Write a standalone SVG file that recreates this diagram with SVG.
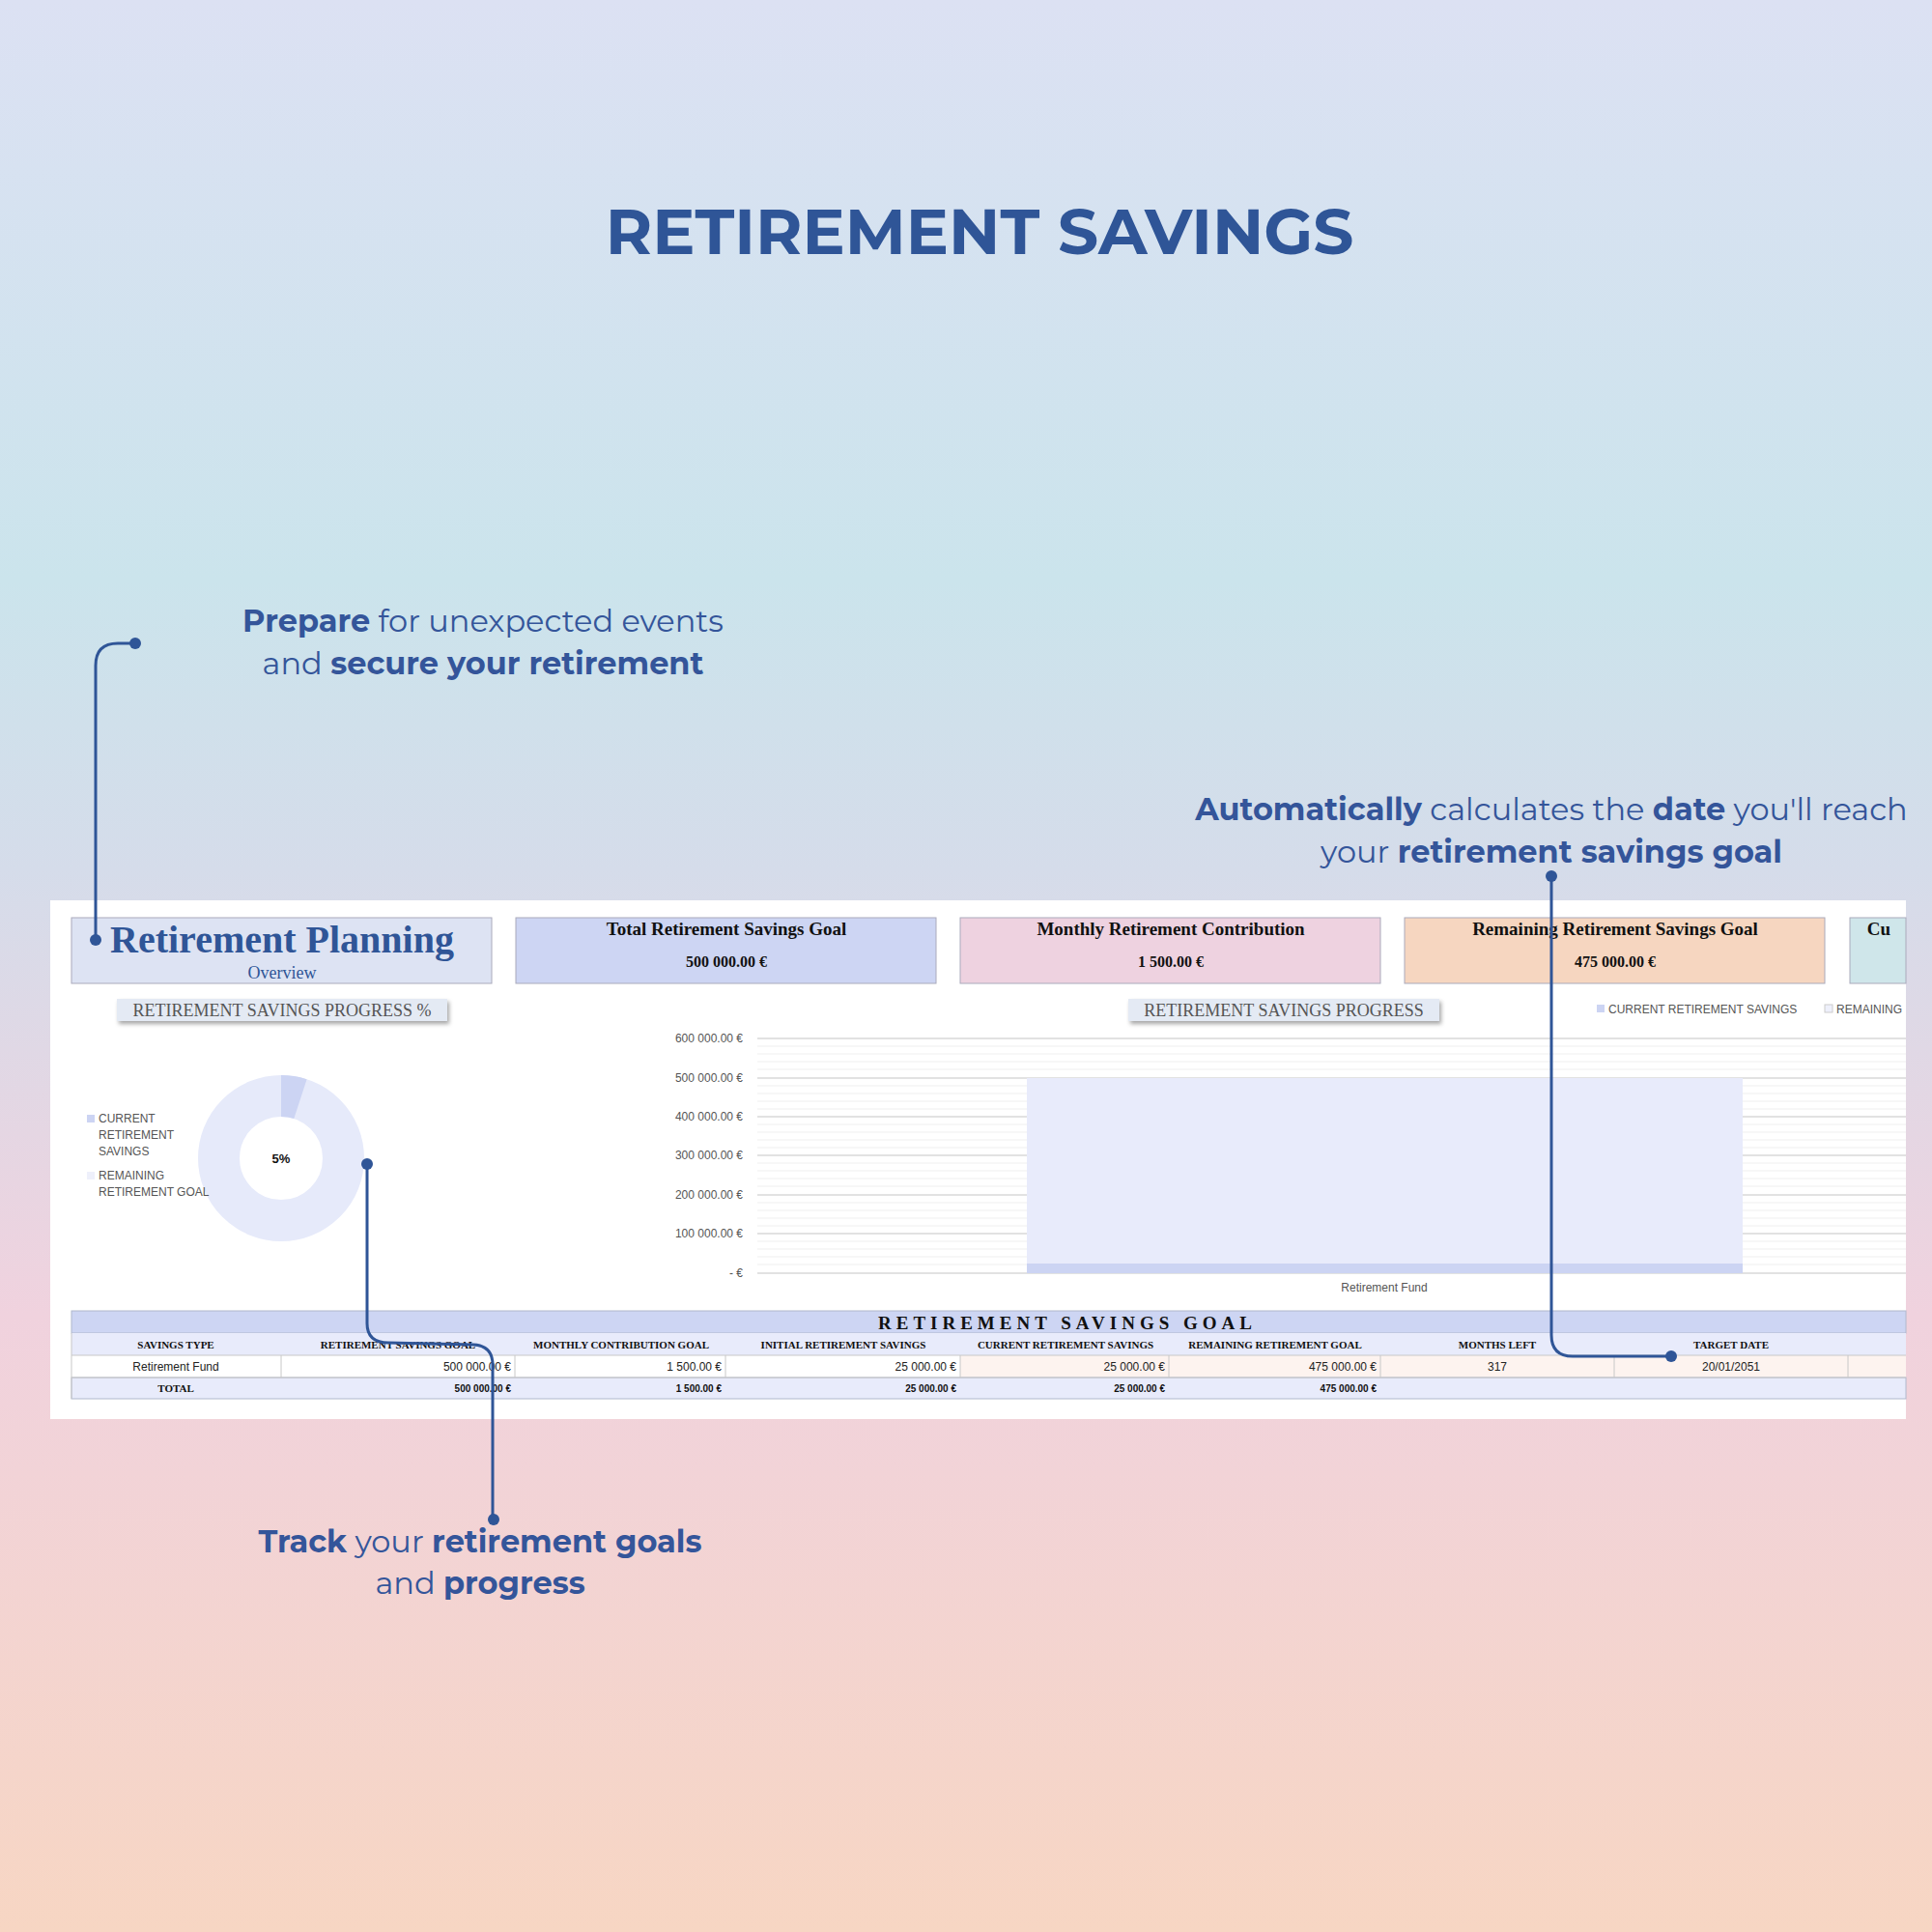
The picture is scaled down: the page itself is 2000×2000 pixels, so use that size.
<svg xmlns="http://www.w3.org/2000/svg" width="2000" height="2000" viewBox="0 0 2000 2000">
<defs>
<linearGradient id="bg" x1="0" y1="0" x2="0" y2="1">
<stop offset="0" stop-color="#dce1f3"/>
<stop offset="0.3" stop-color="#cbe4ec"/>
<stop offset="0.45" stop-color="#d5dcea"/>
<stop offset="0.68" stop-color="#f0d2de"/>
<stop offset="1" stop-color="#f7d6c3"/>
</linearGradient>
<filter id="sh" x="-10%" y="-30%" width="120%" height="180%"><feDropShadow dx="2" dy="3" stdDeviation="2" flood-color="#000" flood-opacity="0.35"/></filter>
<style>
.call{font-family:Montserrat,"Open Sans","Liberation Sans",sans-serif;font-size:32px;fill:#34559a;text-anchor:middle}
.b{font-weight:700}
.ct{font-family:"Liberation Serif",serif;font-weight:700;font-size:19px;fill:#111;text-anchor:middle}
.cv{font-family:"Liberation Serif",serif;font-weight:700;font-size:16px;fill:#111;text-anchor:middle}
.ax{font-family:"Liberation Sans",sans-serif;font-size:12px;fill:#555;text-anchor:end}
.lg{font-family:"Liberation Sans",sans-serif;font-size:12px;fill:#555}
.th{font-family:"Liberation Serif",serif;font-weight:700;font-size:11px;fill:#111;text-anchor:middle}
.td{font-family:"Liberation Sans",sans-serif;font-size:12px;fill:#222}
.tt{font-family:"Liberation Sans",sans-serif;font-weight:700;font-size:10px;fill:#111;text-anchor:end}
.conn{fill:none;stroke:#2f5597;stroke-width:3}
.dot{fill:#2f5597}
.grid{stroke:#d9d9d9;stroke-width:1.5}
.mgrid{stroke:#efefef;stroke-width:1}
.cell{stroke:#c8c8c8;stroke-width:1}
</style>
</defs>
<rect width="2000" height="2000" fill="url(#bg)"/>
<text x="1014" y="263" font-family="Montserrat,'Open Sans','Liberation Sans',sans-serif" font-weight="700" font-size="66" fill="#2f5597" text-anchor="middle">RETIREMENT SAVINGS</text>

<g id="callout-prepare">
<text class="call" x="500" y="654"><tspan class="b">Prepare</tspan> for unexpected events</text>
<text class="call" x="500" y="698">and <tspan class="b">secure your retirement</tspan></text>
</g>
<g id="callout-auto">
<text class="call" x="1606" y="849"><tspan class="b">Automatically</tspan> calculates the <tspan class="b">date</tspan> you'll reach</text>
<text class="call" x="1606" y="893">your <tspan class="b">retirement savings goal</tspan></text>
</g>
<g id="callout-track">
<text class="call" x="497" y="1607"><tspan class="b">Track</tspan> your <tspan class="b">retirement goals</tspan></text>
<text class="call" x="497" y="1650">and <tspan class="b">progress</tspan></text>
</g>

<g id="dashboard">
<rect x="52" y="932" width="1921" height="537" fill="#fff"/>
<g id="title-box">
<rect x="74" y="950" width="435" height="68" fill="#dde3f3" stroke="#aab" stroke-width="1"/>
<text x="292" y="986" font-family="'Liberation Serif',serif" font-weight="700" font-size="40" fill="#2f5597" text-anchor="middle">Retirement Planning</text>
<text x="292" y="1013" font-family="'Liberation Serif',serif" font-size="18" fill="#2f5597" text-anchor="middle">Overview</text>
</g>
<g id="card1"><rect x="534" y="950" width="435" height="68" fill="#cdd5f3" stroke="#aab"/><text class="ct" x="752" y="968">Total Retirement Savings Goal</text><text class="cv" x="752" y="1001">500 000.00 €</text></g>
<g id="card2"><rect x="994" y="950" width="435" height="68" fill="#eed2e0" stroke="#aab"/><text class="ct" x="1212" y="968">Monthly Retirement Contribution</text><text class="cv" x="1212" y="1001">1 500.00 €</text></g>
<g id="card3"><rect x="1454" y="950" width="435" height="68" fill="#f6d6c0" stroke="#aab"/><text class="ct" x="1672" y="968">Remaining Retirement Savings Goal</text><text class="cv" x="1672" y="1001">475 000.00 €</text></g>
<g id="card4"><rect x="1915" y="950" width="58" height="68" fill="#cfe6ea" stroke="#aab"/><text class="ct" x="1945" y="968" text-anchor="start">Cu</text></g>

<g id="progress-pct">
<rect x="121" y="1034" width="342" height="23" fill="#e4eaf4" filter="url(#sh)"/>
<text x="292" y="1052" font-family="'Liberation Serif',serif" font-size="18" fill="#555" text-anchor="middle">RETIREMENT SAVINGS PROGRESS %</text>
<circle cx="291" cy="1199" r="64.5" fill="none" stroke="#e6eafa" stroke-width="43"/>
<path d="M291 1113 A86 86 0 0 1 317.6 1117.2 L304.3 1158.1 A43 43 0 0 0 291 1156 Z" fill="#ccd4f3"/>
<text x="291" y="1204" font-family="'Liberation Sans',sans-serif" font-weight="700" font-size="13" fill="#111" text-anchor="middle">5%</text>
<rect x="90" y="1154" width="8" height="8" fill="#ccd4f3"/>
<text class="lg" x="102" y="1162">CURRENT</text>
<text class="lg" x="102" y="1179">RETIREMENT</text>
<text class="lg" x="102" y="1196">SAVINGS</text>
<rect x="90" y="1213" width="8" height="8" fill="#eef0fb"/>
<text class="lg" x="102" y="1221">REMAINING</text>
<text class="lg" x="102" y="1238">RETIREMENT GOAL</text>
</g>

<g id="progress-chart">
<rect x="1168" y="1034" width="322" height="23" fill="#e4eaf4" filter="url(#sh)"/>
<text x="1329" y="1052" font-family="'Liberation Serif',serif" font-size="18" fill="#555" text-anchor="middle">RETIREMENT SAVINGS PROGRESS</text>
<rect x="1653" y="1040" width="8" height="8" fill="#ccd4f3"/>
<text class="lg" x="1665" y="1049" font-size="11">CURRENT RETIREMENT SAVINGS</text>
<rect x="1889" y="1040" width="8" height="8" fill="#eef0fb" stroke="#ccc"/>
<text class="lg" x="1901" y="1049" font-size="11">REMAINING</text>
<g class="mgrid">
<line x1="784" y1="1083" x2="1973" y2="1083"/><line x1="784" y1="1091" x2="1973" y2="1091"/><line x1="784" y1="1099" x2="1973" y2="1099"/><line x1="784" y1="1107" x2="1973" y2="1107"/>
<line x1="784" y1="1124" x2="1973" y2="1124"/><line x1="784" y1="1132" x2="1973" y2="1132"/><line x1="784" y1="1140" x2="1973" y2="1140"/><line x1="784" y1="1148" x2="1973" y2="1148"/>
<line x1="784" y1="1164" x2="1973" y2="1164"/><line x1="784" y1="1172" x2="1973" y2="1172"/><line x1="784" y1="1180" x2="1973" y2="1180"/><line x1="784" y1="1188" x2="1973" y2="1188"/>
<line x1="784" y1="1204" x2="1973" y2="1204"/><line x1="784" y1="1212" x2="1973" y2="1212"/><line x1="784" y1="1220" x2="1973" y2="1220"/><line x1="784" y1="1228" x2="1973" y2="1228"/>
<line x1="784" y1="1245" x2="1973" y2="1245"/><line x1="784" y1="1253" x2="1973" y2="1253"/><line x1="784" y1="1261" x2="1973" y2="1261"/><line x1="784" y1="1269" x2="1973" y2="1269"/>
<line x1="784" y1="1285" x2="1973" y2="1285"/><line x1="784" y1="1293" x2="1973" y2="1293"/><line x1="784" y1="1301" x2="1973" y2="1301"/><line x1="784" y1="1309" x2="1973" y2="1309"/>
</g>
<g class="grid">
<line x1="784" y1="1075" x2="1973" y2="1075"/><line x1="784" y1="1116" x2="1973" y2="1116"/><line x1="784" y1="1156" x2="1973" y2="1156"/><line x1="784" y1="1196" x2="1973" y2="1196"/><line x1="784" y1="1237" x2="1973" y2="1237"/><line x1="784" y1="1277" x2="1973" y2="1277"/><line x1="784" y1="1318" x2="1973" y2="1318"/>
</g>
<text class="ax" x="769" y="1079">600 000.00 €</text>
<text class="ax" x="769" y="1120">500 000.00 €</text>
<text class="ax" x="769" y="1160">400 000.00 €</text>
<text class="ax" x="769" y="1200">300 000.00 €</text>
<text class="ax" x="769" y="1241">200 000.00 €</text>
<text class="ax" x="769" y="1281">100 000.00 €</text>
<text class="ax" x="769" y="1322">-  €</text>
<rect x="1063" y="1116" width="741" height="192" fill="#e8ebfb"/>
<rect x="1063" y="1308" width="741" height="10" fill="#ccd4f3"/>
<text class="lg" x="1433" y="1337" font-size="11" text-anchor="middle">Retirement Fund</text>
</g>

<g id="goal-table">
<rect x="74" y="1357" width="1899" height="23" fill="#cdd5f3" stroke="#b0b8cc"/>
<text x="1105" y="1376" font-family="'Liberation Serif',serif" font-weight="700" font-size="19" fill="#111" text-anchor="middle" letter-spacing="5">RETIREMENT SAVINGS GOAL</text>
<rect x="74" y="1380" width="1899" height="23" fill="#e8ebfb"/>
<rect x="74" y="1403" width="1899" height="23" fill="#fff"/>
<rect x="994" y="1403" width="979" height="23" fill="#fdf3ef"/>
<rect x="74" y="1426" width="1899" height="22" fill="#e8ebfb" stroke="#b0b8cc"/>
<g class="cell">
<line x1="74" y1="1403" x2="1973" y2="1403"/><line x1="74" y1="1426" x2="1973" y2="1426"/>
<line x1="74" y1="1380" x2="74" y2="1448"/>
<line x1="291" y1="1403" x2="291" y2="1426"/><line x1="533" y1="1403" x2="533" y2="1426"/><line x1="751" y1="1403" x2="751" y2="1426"/><line x1="994" y1="1403" x2="994" y2="1426"/><line x1="1210" y1="1403" x2="1210" y2="1426"/><line x1="1429" y1="1403" x2="1429" y2="1426"/><line x1="1671" y1="1403" x2="1671" y2="1426"/><line x1="1913" y1="1403" x2="1913" y2="1426"/>
</g>
<text class="th" x="182" y="1396">SAVINGS TYPE</text>
<text class="th" x="412" y="1396">RETIREMENT SAVINGS GOAL</text>
<text class="th" x="643" y="1396">MONTHLY CONTRIBUTION GOAL</text>
<text class="th" x="873" y="1396">INITIAL RETIREMENT SAVINGS</text>
<text class="th" x="1103" y="1396">CURRENT RETIREMENT SAVINGS</text>
<text class="th" x="1320" y="1396">REMAINING RETIREMENT GOAL</text>
<text class="th" x="1550" y="1396">MONTHS LEFT</text>
<text class="th" x="1792" y="1396">TARGET DATE</text>
<text class="td" x="182" y="1419" text-anchor="middle">Retirement Fund</text>
<text class="td" x="529" y="1419" text-anchor="end">500 000.00 €</text>
<text class="td" x="747" y="1419" text-anchor="end">1 500.00 €</text>
<text class="td" x="990" y="1419" text-anchor="end">25 000.00 €</text>
<text class="td" x="1206" y="1419" text-anchor="end">25 000.00 €</text>
<text class="td" x="1425" y="1419" text-anchor="end">475 000.00 €</text>
<text class="td" x="1550" y="1419" text-anchor="middle">317</text>
<text class="td" x="1792" y="1419" text-anchor="middle">20/01/2051</text>
<text class="th" x="182" y="1441">TOTAL</text>
<text class="tt" x="529" y="1441">500 000.00 €</text>
<text class="tt" x="747" y="1441">1 500.00 €</text>
<text class="tt" x="990" y="1441">25 000.00 €</text>
<text class="tt" x="1206" y="1441">25 000.00 €</text>
<text class="tt" x="1425" y="1441">475 000.00 €</text>
</g>
</g>

<g id="connectors">
<path class="conn" d="M140 666 H122 Q99 666 99 689 V973"/>
<circle class="dot" cx="140" cy="666" r="6"/><circle class="dot" cx="99" cy="973" r="6"/>
<path class="conn" d="M380 1205 V1370 Q380 1390 402 1390 L490 1392 Q510 1393 510 1413 V1573"/>
<circle class="dot" cx="380" cy="1205" r="6"/><circle class="dot" cx="511" cy="1573" r="6"/>
<path class="conn" d="M1606 907 V1382 Q1606 1404 1628 1404 H1730"/>
<circle class="dot" cx="1606" cy="907" r="6"/><circle class="dot" cx="1730" cy="1404" r="6"/>
</g>
</svg>
